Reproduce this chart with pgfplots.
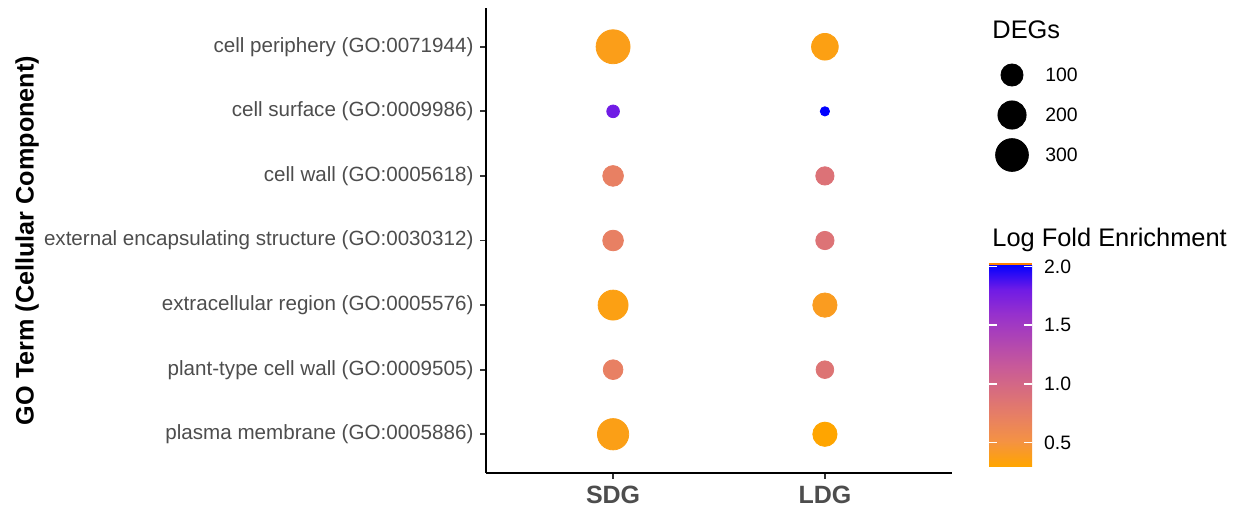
\documentclass[border=0pt]{standalone}
\usepackage{fontspec}
\setmainfont{Liberation Sans}
\usepackage{pgfplots}
\pgfplotsset{compat=1.18}
\usepackage{pgfplotstable}

\definecolor{gtick}{RGB}{51,51,51}
\definecolor{glab}{RGB}{77,77,77}

% GO terms: 0 = top row
\pgfplotstableread{
x y n lfe
1 0 330 0.38
1 1 21 1.80
1 2 82 0.72
1 3 82 0.72
1 4 236 0.36
1 5 71 0.72
1 6 265 0.37
2 0 171 0.36
2 1 15 2.02
2 2 57 0.88
2 3 57 0.87
2 4 131 0.40
2 5 51 0.86
2 6 131 0.30
}\godata

\pgfplotstableread{
x y n
0 100 100
0 200 200
0 300 300
}\legdata

% radius (pt) for a DEG count
\def\msz#1{2.325+6.175*sqrt((#1-15)/315)}

\pgfplotsset{
  colormap={lfe}{rgb255(0cm)=(255,165,0); rgb255(1cm)=(244,146,68);
    rgb255(2cm)=(231,127,100); rgb255(4cm)=(199,89,154);
    rgb255(6cm)=(151,49,205); rgb255(7cm)=(111,27,230); rgb255(8cm)=(0,0,255)},
}

\begin{document}
\begin{tikzpicture}
\useasboundingbox (0,0) rectangle (620.5pt,-255pt);

\begin{axis}[
    at={(243pt,-4pt)}, anchor=north west,
    scale only axis,
    width=233pt, height=232.5pt,
    xmin=0.4, xmax=2.6, ymin=-0.6, ymax=6.6,
    y dir=reverse,
    axis lines*=left,
    axis line style={black, line width=1pt},
    xtick={1,2}, xticklabels={SDG,LDG},
    ytick={0,...,6},
    yticklabels={cell periphery (GO:0071944), cell surface (GO:0009986),
      cell wall (GO:0005618), external encapsulating structure (GO:0030312),
      extracellular region (GO:0005576), plant-type cell wall (GO:0009505),
      plasma membrane (GO:0005886)},
    tick align=outside,
    major tick length=2.75pt,
    tick style={gtick, line width=0.9pt},
    xticklabel style={font=\fontsize{12.5}{14}\selectfont\bfseries, text=glab},
    yticklabel style={font=\fontsize{10.3}{12}\selectfont, text=glab},
    ylabel={GO Term (Cellular Component)},
    ylabel style={font=\fontsize{12.6}{14}\selectfont\bfseries,
      at={(axis description cs:-0.985,0.5)}, anchor=center},
    clip=false,
    colormap name=lfe,
    point meta min=0.30, point meta max=2.02,
    colorbar,
    colorbar/width=21.5pt,
    colorbar shift/.style={},
    colorbar style={
      at={(parent axis.north east)}, anchor=north west,
      xshift=18.5pt, yshift=-128pt,
      width=21.5pt, height=101pt,
      ytick={0.5,1,1.5,2},
      ytick pos=both, yticklabel pos=right,
      tick align=inside,
      major tick length=4pt,
      tick style={white, line width=0.7pt},
      axis line style={draw=none},
      yticklabel shift=2.5pt,
      yticklabel style={font=\fontsize{9.7}{11}\selectfont, text=black,
        /pgf/number format/.cd, fixed, fixed zerofill, precision=1,
        assume math mode=true},
      title={Log Fold Enrichment},
      title style={font=\fontsize{12.7}{14}\selectfont,
        at={(axis description cs:0,1)}, anchor=west, inner sep=0pt,
        xshift=1.5pt, yshift=6pt},
      after end axis/.code={
        \draw[orange, line width=1pt] (rel axis cs:0,1) -- (rel axis cs:1,1);},
    },
]
\addplot[
    scatter, only marks, mark=*,
    scatter/use mapped color={draw=mapped color, fill=mapped color},
    point meta=\thisrow{lfe},
    visualization depends on={\thisrow{n} \as \ndeg},
    scatter/@pre marker code/.append style={/tikz/mark size={\msz{\ndeg}}},
] table[x=x, y=y] {\godata};
\end{axis}

% size legend
\begin{axis}[
    at={(496pt,-37.5pt)}, anchor=north west,
    scale only axis,
    width=20pt, height=40pt,
    xmin=-1, xmax=1, ymin=100, ymax=300,
    y dir=reverse,
    axis line style={draw=none},
    major tick style={draw=none},
    xtick=\empty,
    ytick={100,200,300},
    yticklabel pos=right,
    yticklabel style={font=\fontsize{9.7}{11}\selectfont, inner sep=0pt,
      xshift=6.5pt, /pgf/number format/assume math mode=true},
    title={DEGs},
    title style={font=\fontsize{12.7}{14}\selectfont,
      at={(axis description cs:0,1.4125)}, anchor=west, inner sep=0pt},
    clip=false,
]
\addplot[
    scatter, only marks, mark=*,
    scatter/use mapped color={draw=black, fill=black},
    point meta=\thisrow{n},
    visualization depends on={\thisrow{n} \as \ndeg},
    scatter/@pre marker code/.append style={/tikz/mark size={\msz{\ndeg}}},
] table[x=x, y=y] {\legdata};
\end{axis}
\end{tikzpicture}
\end{document}
